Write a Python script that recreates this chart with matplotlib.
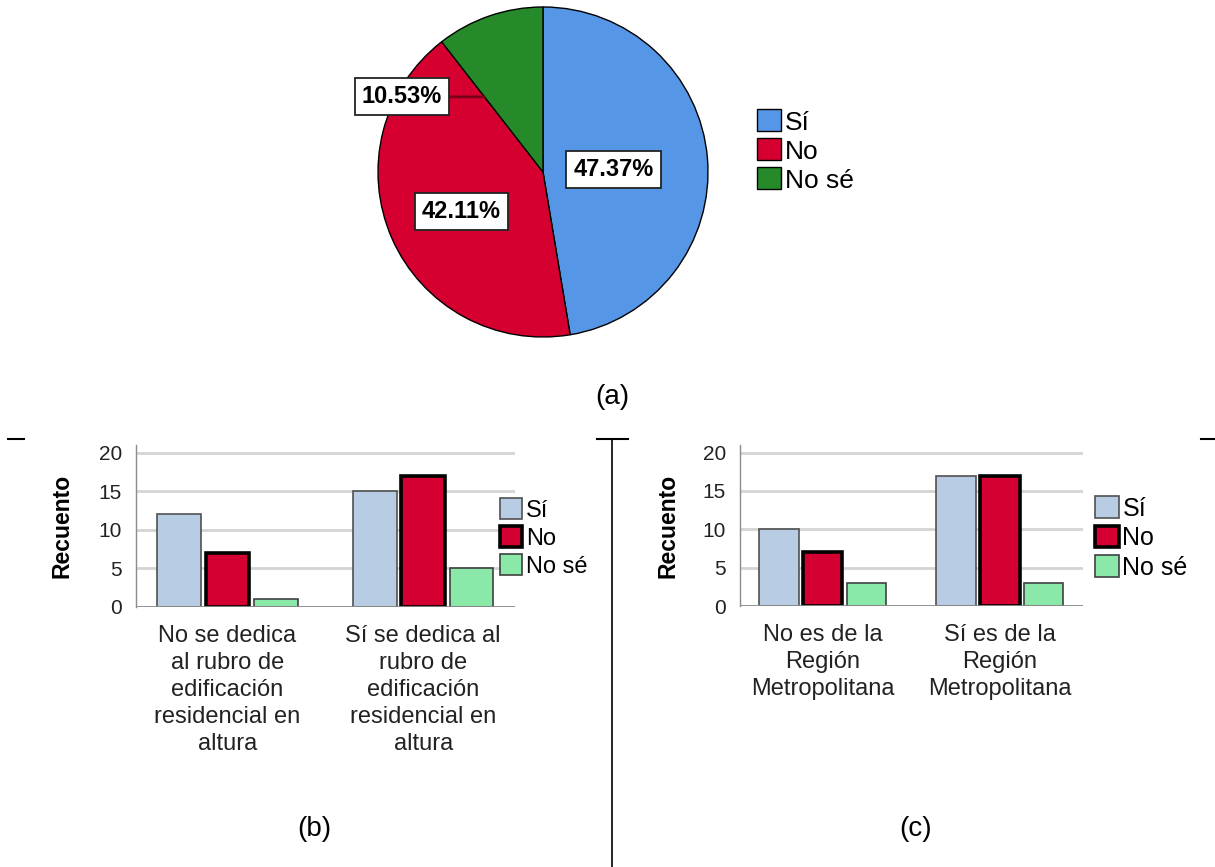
import numpy as np
import matplotlib
matplotlib.use("Agg")
import matplotlib.pyplot as plt
from matplotlib.lines import Line2D

plt.rcParams['font.family'] = ['Liberation Sans', 'DejaVu Sans']

# datos
respuestas = ["Sí", "No", "No sé"]
pie_counts = [18, 16, 4]

cats_b = ["No se dedica\nal rubro de\nedificación\nresidencial en\naltura",
          "Sí se dedica al\nrubro de\nedificación\nresidencial en\naltura"]
si_b = [12, 15]
no_b = [7, 17]
nose_b = [1, 5]

cats_c = ["No es de la\nRegión\nMetropolitana", "Sí es de la\nRegión\nMetropolitana"]
si_c = [10, 17]
no_c = [7, 17]
nose_c = [3, 3]

pie_colors = ["#5596e6", "#d5002f", "#268a2b"]
bar_colors = ["#b8cce4", "#d50032", "#8ae8a8"]

W, H = 1215, 867
fig = plt.figure(figsize=(W / 100, H / 100), dpi=100)


def box(x0, y0, x1, y1):
    # pixel box -> figure fraction
    return [x0 / W, 1 - y1 / H, (x1 - x0) / W, (y1 - y0) / H]


# ---- (a) pie ----
ax = fig.add_axes(box(378, 7, 708, 337))
wedges, _ = ax.pie(pie_counts, colors=pie_colors, startangle=90, counterclock=False,
                   wedgeprops=dict(edgecolor="black", linewidth=1.0))
ax.set_xlim(-1, 1)
ax.set_ylim(-1, 1)
ax.set_aspect("equal")

total = sum(pie_counts)
pcts = [100 * c / total for c in pie_counts]
bb = dict(boxstyle="square,pad=0.3", fc="white", ec="#222222", lw=1.3)
start = 0.0
for i, p in enumerate(pcts):
    mid = np.deg2rad((start + p / 2) * 3.6)
    lab = f"{p:.2f}%"
    if i < 2:
        r = 0.43 if i == 0 else 0.54
        ax.text(r * np.sin(mid), r * np.cos(mid) - 0.02, lab, ha="center", va="center",
                fontsize=17, fontweight="bold", bbox=bb)
    else:
        # etiqueta fuera con línea guía hacia el borde del sector
        start_b = np.deg2rad(start * 3.6)
        px, py = 0.577 * np.sin(start_b), 0.577 * np.cos(start_b)
        ax.annotate(lab, xy=(px, py), xytext=(-0.855, py), ha="center", va="center",
                    fontsize=17, fontweight="bold", bbox=bb,
                    arrowprops=dict(arrowstyle="-", color="#7a0018", lw=2, shrinkA=0, shrinkB=0))
    start += p

ax.legend(wedges, respuestas, loc="center left", bbox_to_anchor=(757 / W, 1 - 151 / H),
          bbox_transform=fig.transFigure, frameon=False, fontsize=19,
          handlelength=0.9, handleheight=0.9, handletextpad=0.15, labelspacing=0.15,
          borderpad=0, borderaxespad=0)

fig.text(612 / W, 1 - 397 / H, "(a)", ha="center", va="center", fontsize=20)


# ---- barras ----
def bar_chart(pos, cats, series, leg_x, leg_fs, lab_x):
    ax = fig.add_axes(pos)
    x = np.arange(len(cats))
    step = 0.247
    width = 0.222
    edges = [("#505050", 1.2), ("black", 2.6), ("#404040", 1.2)]
    for k, vals in enumerate(series):
        ax.bar(x + (k - 1) * step, vals, width, color=bar_colors[k], edgecolor=edges[k][0],
               linewidth=edges[k][1], label=respuestas[k], zorder=3)
    ax.set_xlim(-0.467, 1.469)
    ax.set_ylim(0, 21)
    ax.set_yticks([0, 5, 10, 15, 20])
    ax.yaxis.grid(True, color="#d4d4d4", linewidth=2, zorder=0)
    ax.axhline(0, color="#8c8c8c", linewidth=2, zorder=4)
    for s in ["top", "right", "bottom"]:
        ax.spines[s].set_visible(False)
    ax.spines["left"].set_color("#8c8c8c")
    ax.spines["left"].set_linewidth(1)
    ax.tick_params(axis="y", length=0, labelsize=15, pad=10, labelcolor="#222222")
    ax.tick_params(axis="x", length=0, labelsize=17, pad=13, labelcolor="#222222")
    ax.set_xticks(x)
    ax.set_xticklabels(cats, linespacing=1.3)
    ax.set_ylabel("Recuento", fontsize=16.5, fontweight="bold")
    ax.yaxis.set_label_coords(lab_x, 0.5)
    ax.legend(loc="center left", bbox_to_anchor=(leg_x / W, 1 - 538 / H),
              bbox_transform=fig.transFigure, frameon=False, fontsize=leg_fs,
              handlelength=0.95, handleheight=0.95, handletextpad=0.15, labelspacing=0.2,
              borderpad=0, borderaxespad=0)
    return ax


bar_chart(box(136, 445, 515, 607), cats_b, [si_b, no_b, nose_b], 500, 17, -0.165)
bar_chart(box(740, 445, 1083, 606), cats_c, [si_c, no_c, nose_c], 1095, 18, -0.175)

fig.text(314 / W, 1 - 829 / H, "(b)", ha="center", va="center", fontsize=20)
fig.text(916 / W, 1 - 829 / H, "(c)", ha="center", va="center", fontsize=20)

# líneas separadoras
y_sep = 1 - 439 / H
for xa, xb in [(8, 24), (597, 628), (1201, 1215)]:
    fig.add_artist(Line2D([xa / W, xb / W], [y_sep, y_sep], color="black", lw=1.5))
fig.add_artist(Line2D([612 / W, 612 / W], [y_sep, 0], color="black", lw=1.2))

fig.savefig("out.png", dpi=100, facecolor="white")
